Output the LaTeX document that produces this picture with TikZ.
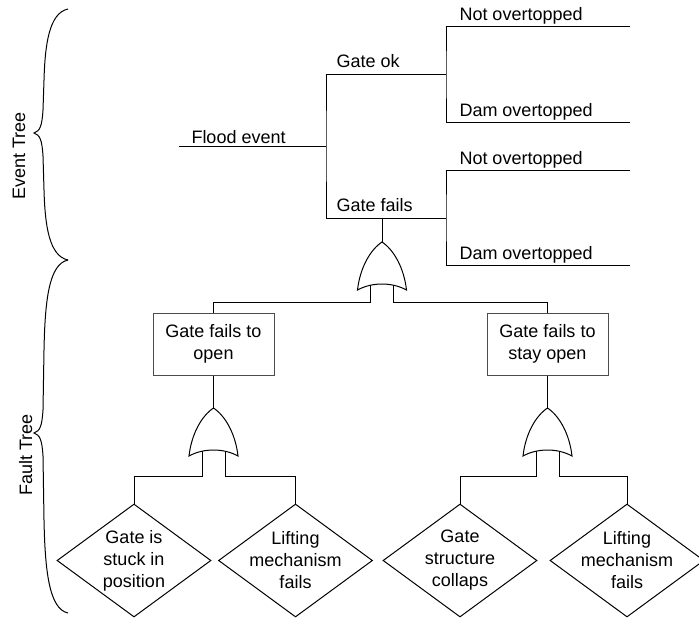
\documentclass[tikz,border=0pt]{standalone}
\usepackage{fontspec}
\setmainfont{Liberation Sans}
\usepackage{tikz}
\usetikzlibrary{shapes.geometric}
\usetikzlibrary{positioning}
\tikzset{lbl/.style = {anchor = base west, inner sep = 0}}
\tikzset{sidelbl/.style = {rotate = 90, anchor = base, inner sep = 0}}
\tikzset{eventbox/.style = {draw = black!70, rectangle, align = center,
                            minimum width = 121pt, minimum height = 62pt, inner sep = 0}}
\tikzset{basicev/.style = {draw, diamond, align = center, aspect = 1.36, inner sep = -14pt,
                           minimum width = 154pt, minimum height = 113pt}}
\tikzset{orgate/.pic = {
  \draw (0,0) .. controls (-12,8) and (-22,26) .. (-24.5,48)
              .. controls (-10,40) and (10,40) .. (24.5,48)
              .. controls (22,26) and (12,8) .. (0,0) -- cycle;
  \coordinate (-top) at (0,0);
  \coordinate (-in1) at (-11.5,43);
  \coordinate (-in2) at (11.5,43);}}

\begin{document}
\begin{tikzpicture}[x = 1pt, y = -1pt, line width = 1pt,
                    every node/.style = {font = \fontsize{18}{22}\selectfont}]
      \useasboundingbox (0,0) rectangle (699,618);

      % event tree
      \coordinate (start) at (179,146);
      \coordinate (split) at (326,146);
      \coordinate (okend) at (446,75);
      \coordinate (failend) at (446,218);
      \coordinate (ok1) at (630,27);
      \coordinate (ok2) at (630,122);
      \coordinate (fail1) at (630,170);
      \coordinate (fail2) at (630,265);

      \draw (start) -- (split);
      \draw (okend) -| (split) |- (failend);
      \draw (ok1) -| (okend) |- (ok2);
      \draw (fail1) -| (failend) |- (fail2);

      \node [lbl] (lflood) at (191,143) {Flood event};
      \node [lbl] (lok) at (336,68) {Gate ok};
      \node [lbl] (lfail) at (336,211) {Gate fails};
      \node [lbl] (lok1) at (459,21) {Not overtopped};
      \node [lbl] (lok2) at (459,116) {Dam overtopped};
      \node [lbl] (lfail1) at (459,164) {Not overtopped};
      \node [lbl] (lfail2) at (459,259) {Dam overtopped};

      % fault tree
      \pic (g0) at (382,242) {orgate};
      \pic (g1) at (213.5,408) {orgate};
      \pic (g2) at (547.5,408) {orgate};

      \node [eventbox] (box1) at (213.5,344) {Gate fails to\\open};
      \node [eventbox] (box2) at (547.5,344) {Gate fails to\\stay open};

      \node [basicev] (d1) at (134,560.5) {Gate is\\stuck in\\position};
      \node [basicev] (d2) at (295.5,560.5) {Lifting\\mechanism\\fails};
      \node [basicev] (d3) at (460,560.5) {Gate\\structure\\collaps};
      \node [basicev] (d4) at (627,560.5) {Lifting\\mechanism\\fails};

      \coordinate (bus0) at (0,302.5);
      \coordinate (bus1) at (0,476);

      \draw (g0-top) -- (g0-top |- failend);
      \draw (g0-in1) -- (g0-in1 |- bus0) -| (box1.north);
      \draw (g0-in2) -- (g0-in2 |- bus0) -| (box2.north);

      \draw (box1.south) -- (g1-top);
      \draw (box2.south) -- (g2-top);
      \draw (g1-in1) -- (g1-in1 |- bus1) -| (d1.north);
      \draw (g1-in2) -- (g1-in2 |- bus1) -| (d2.north);
      \draw (g2-in1) -- (g2-in1 |- bus1) -| (d3.north);
      \draw (g2-in2) -- (g2-in2 |- bus1) -| (d4.north);

      % braces
      \draw (68,9) .. controls (49,13) and (45,45) .. (44,80) -- (43,110)
            .. controls (42,126) and (40,131) .. (34,133)
            .. controls (40,135) and (42,140) .. (43,156) -- (44,190)
            .. controls (45,225) and (49,256) .. (68,260);
      \draw (68,260) .. controls (49,264) and (45,300) .. (44,350) -- (43,410)
            .. controls (42,426) and (40,431) .. (34,433)
            .. controls (40,435) and (42,440) .. (43,456) -- (44,520)
            .. controls (45,570) and (49,609) .. (68,613);

      \node [sidelbl] (levent) at (25,156) {Event Tree};
      \node [sidelbl] (lfault) at (32,455) {Fault Tree};
\end{tikzpicture}
\end{document}
